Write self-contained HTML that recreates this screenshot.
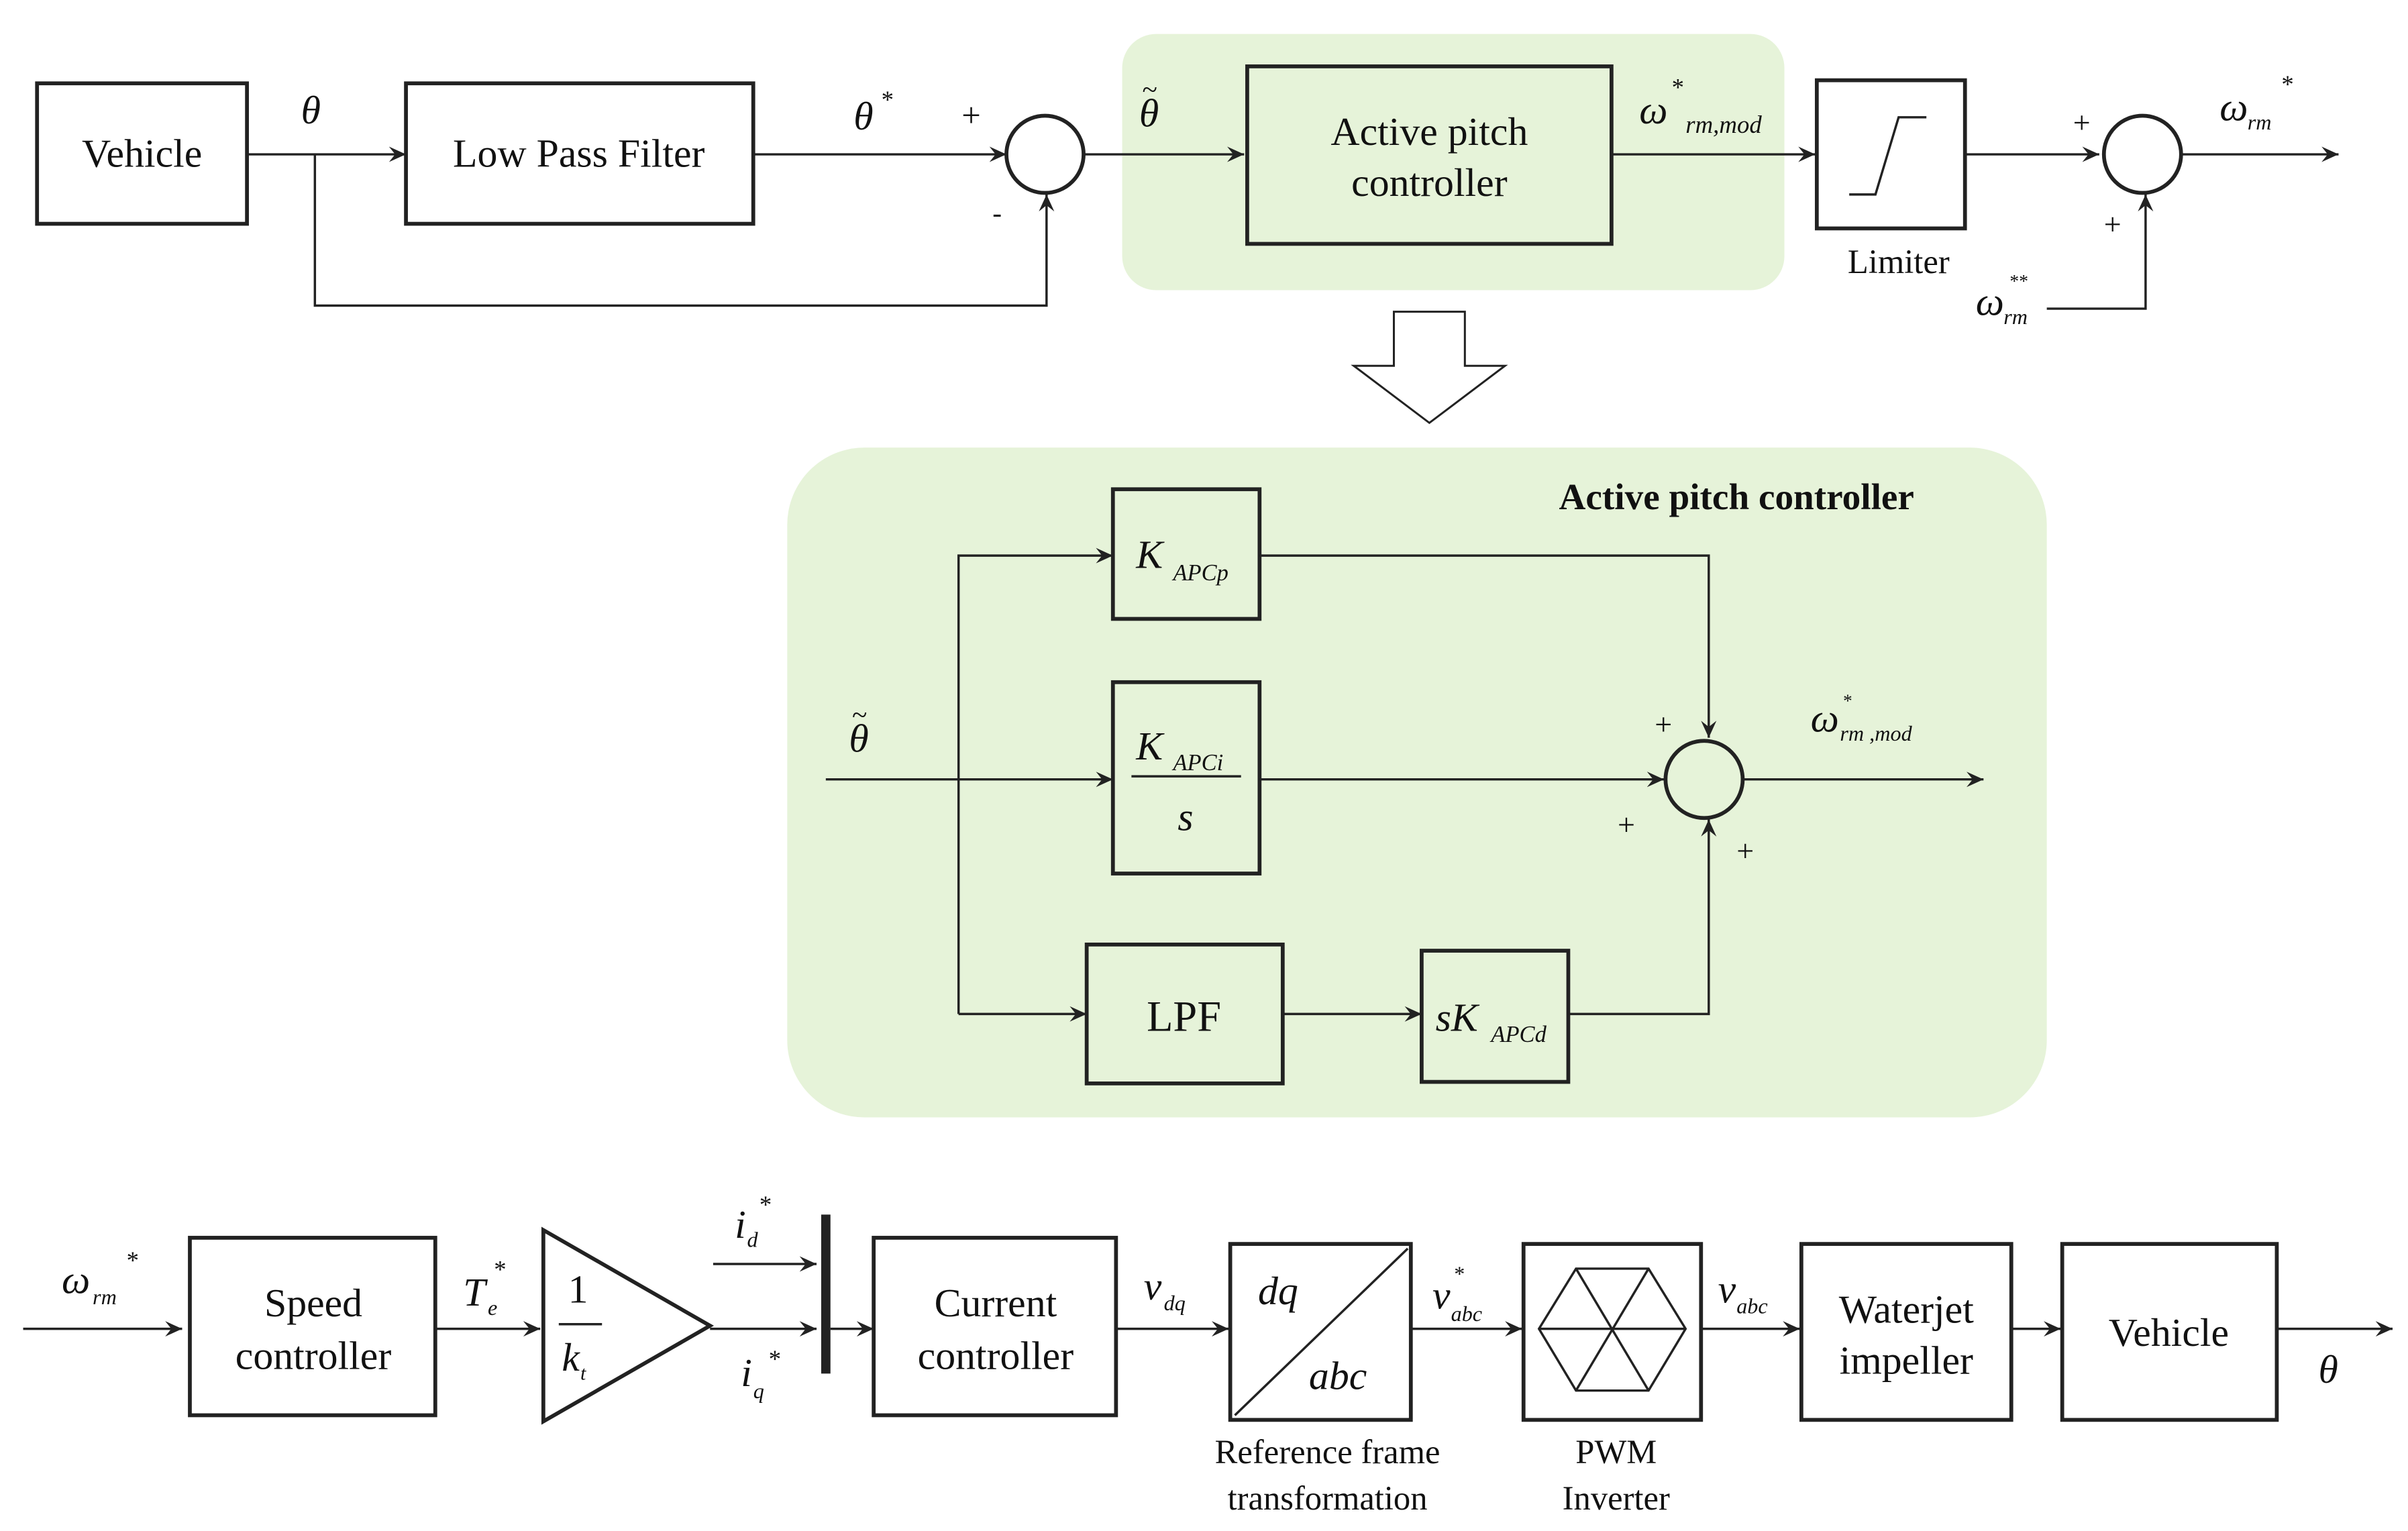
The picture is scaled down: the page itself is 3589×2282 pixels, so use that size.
<!DOCTYPE html>
<html><head><meta charset="utf-8"><style>
html,body{margin:0;padding:0;background:#fff}
svg{display:block}
text{font-family:"Liberation Serif","DejaVu Serif",serif;fill:#111}
.i{font-style:italic}
</style></head><body>
<svg width="3589" height="2282" viewBox="0 0 1560 992" preserveAspectRatio="none" xmlns="http://www.w3.org/2000/svg">
<defs><marker id="a" markerWidth="12" markerHeight="10" refX="11" refY="5" orient="auto" markerUnits="userSpaceOnUse"><path d="M0,0 L11,5 L0,10 L4,5 Z" fill="#222"/></marker></defs>
<g stroke="#222" fill="none" stroke-width="1.5">
<rect x="727" y="22" width="429" height="166" rx="22" fill="#e6f3d9" stroke="none"/>
<rect x="510" y="290" width="816" height="434" rx="50" fill="#e6f3d9" stroke="none"/>
<rect x="24" y="54" width="136" height="91" stroke-width="2.5"/>
<rect x="263" y="54" width="225" height="91" stroke-width="2.5"/>
<line x1="160" y1="100" x2="263" y2="100" marker-end="url(#a)"/>
<line x1="488" y1="100" x2="652" y2="100" marker-end="url(#a)"/>
<circle cx="677" cy="100" r="25" stroke-width="2.5"/>
<polyline points="204,100 204,198 678,198 678,126" marker-end="url(#a)"/>
<line x1="702" y1="100" x2="806" y2="100" marker-end="url(#a)"/>
<rect x="808" y="43" width="236" height="115" fill="#e6f3d9" stroke-width="2.5"/>
<line x1="1044" y1="100" x2="1176" y2="100" marker-end="url(#a)"/>
<rect x="1177" y="52" width="96" height="96" stroke-width="2.5"/>
<polyline points="1198,126 1215,126 1230,76 1248,76" stroke-width="1.5"/>
<line x1="1273" y1="100" x2="1360" y2="100" marker-end="url(#a)"/>
<circle cx="1388" cy="100" r="25" stroke-width="2.5"/>
<line x1="1413" y1="100" x2="1515" y2="100" marker-end="url(#a)"/>
<polyline points="1326,200 1390,200 1390,126" marker-end="url(#a)"/>
<polygon points="903,202 949,202 949,237 975,237 926,274 877,237 903,237" stroke-width="1.3" fill="#fff"/>
<rect x="721" y="317" width="95" height="84" stroke-width="2.5"/>
<rect x="721" y="442" width="95" height="124" stroke-width="2.5"/>
<line x1="733" y1="503" x2="804" y2="503" stroke-width="1.5"/>
<rect x="704" y="612" width="127" height="90" stroke-width="2.5"/>
<rect x="921" y="616" width="95" height="85" stroke-width="2.5"/>
<line x1="535" y1="505" x2="721" y2="505" marker-end="url(#a)"/>
<polyline points="621,657 621,360 721,360" marker-end="url(#a)"/>
<line x1="621" y1="657" x2="704" y2="657" marker-end="url(#a)"/>
<line x1="831" y1="657" x2="921" y2="657" marker-end="url(#a)"/>
<polyline points="816,360 1107,360 1107,478" marker-end="url(#a)"/>
<line x1="816" y1="505" x2="1078" y2="505" marker-end="url(#a)"/>
<polyline points="1016,657 1107,657 1107,531" marker-end="url(#a)"/>
<circle cx="1104" cy="505" r="25" stroke-width="2.5"/>
<line x1="1129" y1="505" x2="1285" y2="505" marker-end="url(#a)"/>
<line x1="15" y1="861" x2="118" y2="861" marker-end="url(#a)"/>
<rect x="123" y="802" width="159" height="115" stroke-width="2.5"/>
<line x1="282" y1="861" x2="350" y2="861" marker-end="url(#a)"/>
<polygon points="352,797 352,921 460,859" stroke-width="2.5"/>
<line x1="362" y1="858" x2="390" y2="858"/>
<line x1="460" y1="861" x2="529" y2="861" marker-end="url(#a)"/>
<line x1="462" y1="819" x2="529" y2="819" marker-end="url(#a)"/>
<line x1="535" y1="787" x2="535" y2="890" stroke-width="6"/>
<line x1="538" y1="861" x2="566" y2="861" marker-end="url(#a)"/>
<rect x="566" y="802" width="157" height="115" stroke-width="2.5"/>
<line x1="723" y1="861" x2="796" y2="861" marker-end="url(#a)"/>
<rect x="797" y="806" width="117" height="114" stroke-width="2.5"/>
<line x1="800" y1="917" x2="912" y2="809"/>
<line x1="914" y1="861" x2="986" y2="861" marker-end="url(#a)"/>
<rect x="987" y="806" width="115" height="114" stroke-width="2.5"/>
<polygon points="1021,822 1068,822 1092,861 1068,901 1021,901 997,861"/>
<line x1="1021" y1="822" x2="1068" y2="901"/><line x1="1068" y1="822" x2="1021" y2="901"/><line x1="997" y1="861" x2="1092" y2="861"/>
<line x1="1102" y1="861" x2="1166" y2="861" marker-end="url(#a)"/>
<rect x="1167" y="806" width="136" height="114" stroke-width="2.5"/>
<line x1="1303" y1="861" x2="1335" y2="861" marker-end="url(#a)"/>
<rect x="1336" y="806" width="139" height="114" stroke-width="2.5"/>
<line x1="1475" y1="861" x2="1550" y2="861" marker-end="url(#a)"/>
</g>
<g font-size="26">
<text x="92" y="108" text-anchor="middle">Vehicle</text>
<text x="375" y="108" text-anchor="middle">Low Pass Filter</text>
<text x="926" y="94" text-anchor="middle">Active pitch</text>
<text x="926" y="127" text-anchor="middle">controller</text>
<text x="1230" y="177" text-anchor="middle" font-size="22">Limiter</text>
<text x="195" y="80" class="i">θ</text>
<text x="553" y="84" class="i">θ</text><text x="571" y="70" font-size="16">*</text>
<text x="623" y="82" font-size="22">+</text>
<text x="643" y="144" font-size="18">-</text>
<text x="738" y="82" class="i">θ</text><text x="740" y="64" font-size="18">~</text>
<text x="1062" y="80" class="i">ω</text><text x="1083" y="62" font-size="16">*</text><text x="1092" y="86" class="i" font-size="16">rm,mod</text>
<text x="1343" y="86" font-size="20">+</text>
<text x="1363" y="152" font-size="20">+</text>
<text x="1438" y="78" class="i">ω</text><text x="1456" y="84" class="i" font-size="14">rm</text><text x="1478" y="60" font-size="16">*</text>
<text x="1280" y="204" class="i">ω</text><text x="1298" y="210" class="i" font-size="14">rm</text><text x="1302" y="186" font-size="12">**</text>
<text x="1125" y="330" text-anchor="middle" font-weight="bold" font-size="24">Active pitch controller</text>
<text x="736" y="368" class="i">K</text><text x="760" y="376" class="i" font-size="15">APCp</text>
<text x="736" y="492" class="i">K</text><text x="760" y="499" class="i" font-size="15">APCi</text>
<text x="768" y="538" class="i" text-anchor="middle">s</text>
<text x="767" y="668" text-anchor="middle" font-size="28">LPF</text>
<text x="930" y="668" class="i">sK</text><text x="966" y="675" class="i" font-size="15">APCd</text>
<text x="550" y="487" class="i">θ</text><text x="552" y="469" font-size="18">~</text>
<text x="1072" y="476" font-size="20">+</text>
<text x="1048" y="541" font-size="20">+</text>
<text x="1125" y="558" font-size="20">+</text>
<text x="1173" y="474" class="i">ω</text><text x="1192" y="480" class="i" font-size="14">rm ,mod</text><text x="1194" y="458" font-size="12">*</text>
<text x="203" y="853" text-anchor="middle">Speed</text>
<text x="203" y="887" text-anchor="middle">controller</text>
<text x="645" y="853" text-anchor="middle">Current</text>
<text x="645" y="887" text-anchor="middle">controller</text>
<text x="1235" y="857" text-anchor="middle">Waterjet</text>
<text x="1235" y="890" text-anchor="middle">impeller</text>
<text x="1405" y="872" text-anchor="middle">Vehicle</text>
<text x="860" y="948" text-anchor="middle" font-size="22">Reference frame</text>
<text x="860" y="978" text-anchor="middle" font-size="22">transformation</text>
<text x="1047" y="948" text-anchor="middle" font-size="22">PWM</text>
<text x="1047" y="978" text-anchor="middle" font-size="22">Inverter</text>
<text x="815" y="845" class="i">dq</text>
<text x="848" y="900" class="i">abc</text>
<text x="40" y="838" class="i">ω</text><text x="60" y="845" class="i" font-size="14">rm</text><text x="82" y="822" font-size="16">*</text>
<text x="300" y="846" class="i">T</text><text x="316" y="852" class="i" font-size="14">e</text><text x="320" y="828" font-size="16">*</text>
<text x="368" y="844">1</text>
<text x="364" y="888" class="i">k</text><text x="376" y="894" class="i" font-size="13">t</text>
<text x="476" y="802" class="i">i</text><text x="484" y="808" class="i" font-size="14">d</text><text x="492" y="786" font-size="16">*</text>
<text x="480" y="898" class="i">i</text><text x="488" y="906" class="i" font-size="14">q</text><text x="498" y="886" font-size="16">*</text>
<text x="741" y="842" class="i">v</text><text x="754" y="849" class="i" font-size="14">dq</text>
<text x="928" y="848" class="i">v</text><text x="940" y="856" class="i" font-size="14">abc</text><text x="942" y="830" font-size="14">*</text>
<text x="1113" y="844" class="i">v</text><text x="1125" y="851" class="i" font-size="14">abc</text>
<text x="1502" y="896" class="i">θ</text>
</g>
</svg>
</body></html>
